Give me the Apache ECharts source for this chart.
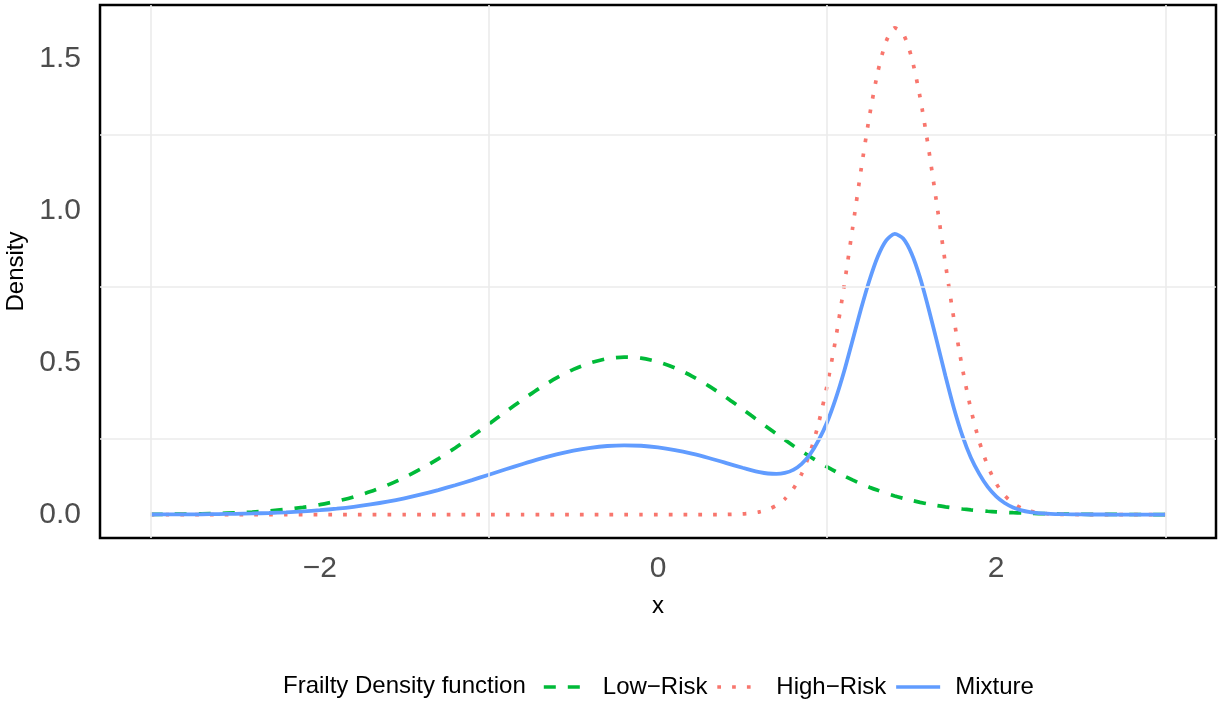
<!DOCTYPE html>
<html>
<head>
<meta charset="utf-8">
<script src="https://cdn.jsdelivr.net/npm/echarts@6/dist/echarts.min.js"></script>
<style>
  html, body { margin: 0; padding: 0; background: #fff; }
  #chart { width: 1225px; height: 703px; }
</style>
</head>
<body>
<div id="chart"></div>
<script>
// x positions (denser near the high-risk peak)
const xs = [
    -3.0, -2.9, -2.8, -2.7, -2.6, -2.5, -2.4, -2.3, -2.2, -2.1,
    -2.0, -1.9, -1.8, -1.7, -1.6, -1.5, -1.4, -1.3, -1.2, -1.1,
    -1.0, -0.9, -0.8, -0.7, -0.6, -0.5, -0.4, -0.3, -0.2, -0.1,
    0.0, 0.1, 0.2, 0.3, 0.4,
    0.5, 0.55, 0.6, 0.65, 0.7, 0.75, 0.8, 0.85, 0.9, 0.95,
    1.0, 1.05, 1.1, 1.15, 1.2, 1.25, 1.3, 1.35, 1.4, 1.45,
    1.5, 1.55, 1.6, 1.65, 1.7, 1.75, 1.8, 1.85, 1.9, 1.95,
    2.0, 2.05, 2.1, 2.15, 2.2, 2.25, 2.3, 2.35, 2.4,
    2.5, 2.6, 2.7, 2.8, 2.9, 3.0
];

const lowRisk = [
    0.0007, 0.0011, 0.0017, 0.0026, 0.0039, 0.0058, 0.0084, 0.0121, 0.0172, 0.0239,
    0.0327, 0.0440, 0.0582, 0.0758, 0.0969, 0.1219, 0.1508, 0.1833, 0.2192, 0.2577,
    0.2980, 0.3387, 0.3785, 0.4160, 0.4495, 0.4777, 0.4991, 0.5128, 0.5180, 0.5145,
    0.5025, 0.4826, 0.4557, 0.4231, 0.3863,
    0.3468, 0.3264, 0.3061, 0.2857, 0.2656, 0.2459, 0.2267, 0.2081, 0.1902, 0.1732,
    0.1570, 0.1417, 0.1273, 0.1140, 0.1016, 0.0902, 0.0797, 0.0701, 0.0614, 0.0536,
    0.0466, 0.0403, 0.0348, 0.0298, 0.0255, 0.0217, 0.0184, 0.0155, 0.0130, 0.0109,
    0.0091, 0.0075, 0.0062, 0.0051, 0.0042, 0.0034, 0.0028, 0.0022, 0.0018,
    0.0012, 0.0007, 0.0005, 0.0003, 0.0002, 0.0001
];

const highRisk = [
    0, 0, 0, 0, 0, 0, 0, 0, 0, 0,
    0, 0, 0, 0, 0, 0, 0, 0, 0, 0,
    0, 0, 0, 0, 0, 0, 0, 0, 0, 0,
    0, 0, 0, 0, 0.0005,
    0.0023, 0.0046, 0.0090, 0.0167, 0.0299, 0.0513, 0.0848, 0.1345, 0.2052, 0.3011,
    0.4247, 0.5756, 0.7499, 0.9393, 1.1309, 1.3087, 1.4559, 1.5572, 1.6007, 1.5818,
    1.5027, 1.3723, 1.2045, 1.0165, 0.8244, 0.6429, 0.4819, 0.3472, 0.2405, 0.1600,
    0.1025, 0.0630, 0.0373, 0.0212, 0.0116, 0.0061, 0.0031, 0.0015, 0.0007,
    0.0001, 0, 0, 0, 0, 0
];

const mixture = [
    0.0003, 0.0005, 0.0007, 0.0011, 0.0017, 0.0025, 0.0037, 0.0053, 0.0076, 0.0105,
    0.0144, 0.0194, 0.0256, 0.0334, 0.0426, 0.0536, 0.0664, 0.0807, 0.0964, 0.1134,
    0.1311, 0.1490, 0.1665, 0.1830, 0.1978, 0.2102, 0.2196, 0.2256, 0.2279, 0.2264,
    0.2211, 0.2123, 0.2005, 0.1862, 0.1703,
    0.1539, 0.1462, 0.1397, 0.1351, 0.1336, 0.1369, 0.1472, 0.1669, 0.1986, 0.2448,
    0.3040, 0.3800, 0.4700, 0.5720, 0.6750, 0.7700, 0.8490, 0.9020, 0.9230, 0.9080,
    0.8580, 0.7790, 0.6780, 0.5680, 0.4560, 0.3500, 0.2600, 0.1880, 0.1340, 0.0910,
    0.0600, 0.0380, 0.0235, 0.0140, 0.0083, 0.0049, 0.0029, 0.0018, 0.0012,
    0.0005, 0.0003, 0.0002, 0.0001, 0.0001, 0.0000
];

const seriesNames = ['Low\u2212Risk', 'High\u2212Risk', 'Mixture'];
const legendTitle = 'Frailty Density function';
const xTicks = [-2, 0, 2];
const yTicks = [0, 0.5, 1, 1.5];
const xGrid = [-3, -1, 1, 3];
const yGrid = [0.25, 0.75, 1.25];

const FONT = '"Liberation Sans", Arial, sans-serif';
const pairs = (ys) => xs.map((x, i) => [x, ys[i]]);

const lineSeries = (name, ys, color, dash, width) => ({
    name,
    type: 'line',
    data: pairs(ys),
    symbol: 'none',
    smooth: 0.25,
    z: 3,
    animation: false,
    lineStyle: {color, width, type: dash, cap: 'butt'},
    itemStyle: {color},
});

const chart = echarts.init(document.getElementById('chart'), null, {renderer: 'canvas'});

chart.setOption({
    backgroundColor: '#fff',
    animation: false,
    grid: {
        left: 100, top: 5, width: 1116, height: 533,
        outerBoundsMode: 'none', containLabel: false,
        show: true, borderColor: '#000', borderWidth: 2.5,
        backgroundColor: 'transparent',
    },
    xAxis: {
        type: 'value', min: -3.3, max: 3.3,
        name: 'x', nameLocation: 'middle', nameGap: 56,
        nameTextStyle: {fontFamily: FONT, fontSize: 24, color: '#000'},
        axisLine: {show: false}, axisTick: {show: false}, splitLine: {show: false},
        axisLabel: {
            customValues: xTicks, margin: 16,
            fontFamily: FONT, fontSize: 30, color: '#4D4D4D',
            formatter: (v) => String(v).replace('-', '\u2212'),
        },
    },
    yAxis: {
        type: 'value', min: -0.077, max: 1.676,
        name: 'Density', nameLocation: 'middle', nameGap: 69, nameRotate: 90,
        nameTextStyle: {fontFamily: FONT, fontSize: 24, color: '#000'},
        axisLine: {show: false}, axisTick: {show: false}, splitLine: {show: false},
        axisLabel: {
            customValues: yTicks, margin: 19,
            fontFamily: FONT, fontSize: 30, color: '#4D4D4D',
            formatter: (v) => v.toFixed(1),
        },
    },
    legend: {
        data: seriesNames,
        left: 537, top: 670,
        itemWidth: 44, itemHeight: 24, itemGap: 8,
        selectedMode: false,
        itemStyle: {opacity: 0},
        lineStyle: {width: 3.6},
        textStyle: {fontFamily: FONT, fontSize: 24, color: '#000', padding: [0, 0, 0, 10]},
    },
    graphic: [{
        type: 'text', left: 283, top: 674,
        style: {text: legendTitle, font: '24px ' + FONT, fill: '#000'},
    }],
    series: [
        {
            // background grid lines (only the odd / quarter lines show in the reference)
            name: 'grid', type: 'line', data: [], z: 1, silent: true,
            markLine: {
                silent: true, symbol: 'none', animation: false,
                label: {show: false},
                lineStyle: {color: '#EBEBEB', width: 1.6, type: 'solid'},
                data: [...xGrid.map(v => ({xAxis: v})), ...yGrid.map(v => ({yAxis: v}))],
            },
        },
        lineSeries(seriesNames[0], lowRisk, '#00BA38', [12, 12], 3.7),
        lineSeries(seriesNames[1], highRisk, '#F8766D', [3.7, 11.1], 3.7),
        lineSeries(seriesNames[2], mixture, '#619CFF', 'solid', 3.8),
    ],
});
</script>
</body>
</html>
